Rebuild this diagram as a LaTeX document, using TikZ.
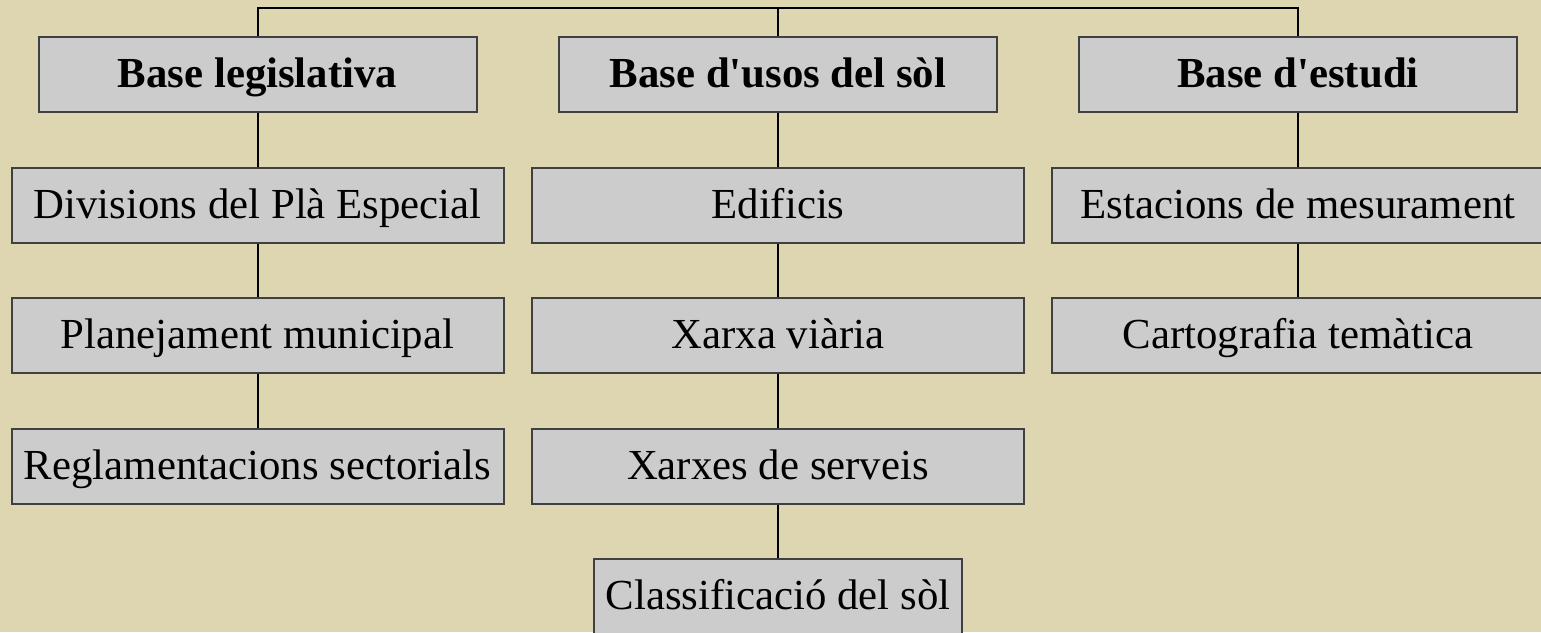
\documentclass[tikz,border=0pt]{standalone}
\usepackage{fontspec}
\setmainfont{Liberation Serif}
\usepackage{tikz}
\usetikzlibrary{positioning}
\usepackage{xcolor}
\definecolor{fons}{RGB}{221,214,177}
\definecolor{caixa}{RGB}{204,204,204}
\definecolor{vora}{RGB}{64,64,64}

\begin{document}
\begin{tikzpicture}[x=1pt,y=-1pt,
		base/.style={draw=vora,fill=caixa,line width=2pt,inner sep=0pt,minimum height=75pt,text height=30pt,text depth=4pt,font=\fontsize{42.8}{50}\selectfont},
		capcalera/.style={base,minimum width=438pt,font=\fontsize{42.8}{50}\selectfont\bfseries},
		element/.style={base,minimum width=492pt},
		enllac/.style={line width=2pt,black}]
				
				% Fons
				\path[fill=fons,use as bounding box] (0,0) rectangle (1541,632);
				
				% Capçaleres
				\node[capcalera] (leg) at (257.5,74.5) {Base legislativa};
				\node[capcalera] (usos) at (778,74.5) {Base d\textquotesingle usos del sòl};
				\node[capcalera] (est) at (1298,74.5) {Base d\textquotesingle estudi};
				
				% Elements
				\foreach \i/\t in {1/Divisions del Plà Especial,2/Planejament municipal,3/Reglamentacions sectorials} {
					\node[element] (leg\i) at (257.5,{74.5+130.5*\i}) {\t};
				}
				\foreach \i/\t in {1/Edificis,2/Xarxa viària,3/Xarxes de serveis} {
					\node[element] (usos\i) at (778,{74.5+130.5*\i}) {\t};
				}
				\node[base,minimum width=368pt] (usos4) at (778,596) {Classificació del sòl};
				\foreach \i/\t in {1/Estacions de mesurament,2/Cartografia temàtica} {
					\node[element] (est\i) at (1298,{74.5+130.5*\i}) {\t};
				}
				
				% Connexions
				\coordinate (dalt) at (778,8);
				\draw[enllac] (leg.north) |- (dalt) -| (est.north);
				\draw[enllac] (dalt) -- (usos.north);
				\draw[enllac] (leg) -- (leg1) (leg1) -- (leg2) (leg2) -- (leg3);
				\draw[enllac] (usos) -- (usos1) (usos1) -- (usos2) (usos2) -- (usos3) (usos3) -- (usos4);
				\draw[enllac] (est) -- (est1) (est1) -- (est2);
				
\end{tikzpicture}
\end{document}
